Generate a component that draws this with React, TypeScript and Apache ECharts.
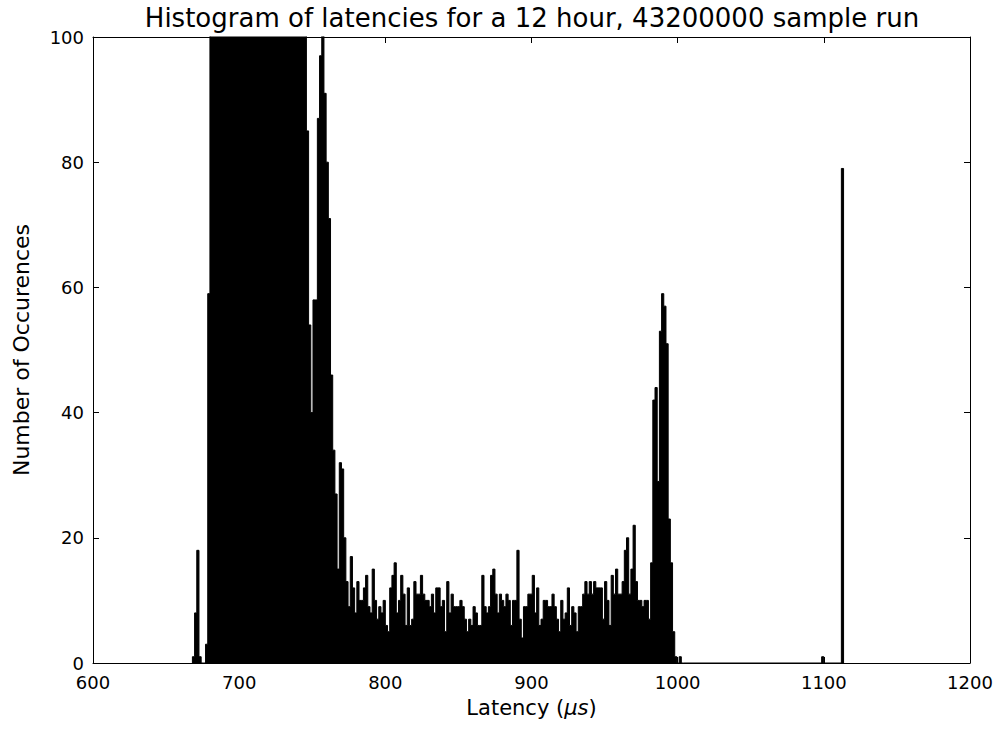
import React, { useEffect, useRef } from "react";
import * as echarts from "echarts";

// Histogram bins: 1.5 µs wide, first bin starts at 668 µs
const BIN_START = 668;
const BIN_WIDTH = 1.5;

// 668 – 680 µs
const leadCounts = [1, 8, 18, 1, 0, 0, 3, 59];
// 680 – 746 µs (far above the 100 clip of the y axis)
const bulkCounts = [
  420, 2150, 8400, 21500, 46800, 88300, 141000, 197500, 246000, 279000, 291000,
  283000, 261000, 229000, 193000, 158000, 126000, 98500, 75600, 57200, 43100,
  32400, 24300, 18200, 13600, 10200, 7650, 5730, 4290, 3210, 2400, 1790, 1340,
  1000, 748, 560, 419, 314, 236, 178, 135, 113, 104, 101,
];
// 746 – 792.5 µs
const fallCounts = [
  85, 54, 40, 58, 58, 87, 97, 130, 91, 80, 71, 46, 34, 27, 15, 32, 31, 20, 13, 9,
  17, 12, 8, 13, 10, 10, 12, 14, 9, 8, 15,
];
// 792.5 – 824 µs
const plateau1 = [10, 7, 9, 8, 10, 6, 5, 12, 14, 16, 8, 10, 14, 11, 6, 12, 6, 7, 13, 11, 11];
// 824 – 893 µs
const plateau2 = [
  14, 11, 10, 10, 9, 11, 8, 12, 12, 9, 10, 5, 13, 8, 11, 9, 9, 9, 10, 9, 7, 5, 7,
  6, 9, 8, 6, 6, 14, 9, 8, 9, 14, 15, 11, 8, 11, 10, 9, 11, 10, 6, 10, 10, 18, 7,
];
// 893 – 947 µs
const plateau3 = [
  4, 9, 9, 11, 11, 14, 8, 12, 6, 7, 10, 10, 9, 9, 11, 9, 7, 5, 10, 7, 8, 12, 6, 9,
  8, 5, 9, 9, 11, 13, 11, 13, 11, 13, 12, 12,
];
// 947 – 1004 µs
const secondPeak = [
  12, 7, 13, 10, 6, 14, 11, 15, 11, 11, 13, 18, 20, 11, 15, 22, 13, 10, 10, 9, 10,
  10, 7, 16, 42, 44, 29, 53, 59, 57, 51, 23, 16, 5, 1, 0, 1, 0,
];
// isolated outlier bins
const outlierStarts = [1098.5, 1112];
const outlierCounts = [1, 79];

const xTicks = [600, 700, 800, 900, 1000, 1100, 1200];
const yTicks = [0, 20, 40, 60, 80, 100];

const counts = [
  ...leadCounts,
  ...bulkCounts,
  ...fallCounts,
  ...plateau1,
  ...plateau2,
  ...plateau3,
  ...secondPeak,
];

function buildSteps(): number[][] {
  const pts: number[][] = [[BIN_START, 0]];
  counts.forEach((c, i) => pts.push([BIN_START + i * BIN_WIDTH, c]));
  pts.push([BIN_START + counts.length * BIN_WIDTH, 0]);
  outlierStarts.forEach((s, i) => {
    pts.push([s, outlierCounts[i]]);
    pts.push([s + BIN_WIDTH, 0]);
  });
  return pts;
}

const FONT = "DejaVu Sans";

export default function App() {
  const ref = useRef<HTMLDivElement>(null);
  useEffect(() => {
    if (!ref.current) return;
    const chart = echarts.init(ref.current, undefined, { renderer: "svg" });
    const xMin = xTicks[0];
    const xMax = xTicks[xTicks.length - 1];
    const yMin = yTicks[0];
    const yMax = yTicks[yTicks.length - 1];
    const tick = { show: true, inside: true, length: 6, lineStyle: { color: "#000", width: 1 } };
    const axisLine = { show: true, onZero: false, lineStyle: { color: "#000", width: 1 } };
    chart.setOption({
      animation: false,
      backgroundColor: "#fff",
      textStyle: { fontFamily: FONT },
      grid: { left: 93, right: 32, top: 37, bottom: 71, show: false },
      graphic: [
        {
          type: "text",
          x: 532,
          y: 18,
          style: {
            text: "Histogram of latencies for a 12 hour, 43200000 sample run",
            fontFamily: FONT,
            fontSize: 26,
            fill: "#000",
            align: "center",
            verticalAlign: "middle",
          },
        },
      ],
      xAxis: [
        {
          type: "value",
          min: xMin,
          max: xMax,
          interval: 100,
          position: "bottom",
          axisLine,
          axisTick: tick,
          splitLine: { show: false },
          axisLabel: {
            color: "#000",
            fontSize: 18,
            fontFamily: FONT,
            margin: 10,
            formatter: (v: number) => String(v),
          },
          name: "Latency ({i|μs})",
          nameLocation: "middle",
          nameGap: 34,
          nameTextStyle: {
            color: "#000",
            fontSize: 21,
            fontFamily: FONT,
            rich: { i: { fontSize: 21, fontFamily: FONT, fontStyle: "italic", color: "#000" } },
          },
        },
        {
          type: "value",
          min: xMin,
          max: xMax,
          interval: 100,
          position: "top",
          axisLine,
          axisTick: tick,
          splitLine: { show: false },
          axisLabel: { show: false },
        },
      ],
      yAxis: [
        {
          type: "value",
          min: yMin,
          max: yMax,
          interval: 20,
          position: "left",
          axisLine,
          axisTick: tick,
          splitLine: { show: false },
          axisLabel: { color: "#000", fontSize: 18, fontFamily: FONT, margin: 9 },
          name: "Number of Occurences",
          nameLocation: "middle",
          nameGap: 61,
          nameRotate: 90,
          nameTextStyle: { color: "#000", fontSize: 22, fontFamily: FONT },
        },
        {
          type: "value",
          min: yMin,
          max: yMax,
          interval: 20,
          position: "right",
          axisLine,
          axisTick: tick,
          splitLine: { show: false },
          axisLabel: { show: false },
        },
      ],
      series: [
        {
          type: "line",
          data: buildSteps(),
          step: "end",
          symbol: "none",
          clip: true,
          lineStyle: { color: "#000", width: 1 },
          areaStyle: { color: "#000", opacity: 1 },
          itemStyle: { color: "#000" },
          z: 1,
        },
      ],
    });
    return () => chart.dispose();
  }, []);
  return (
    <div
      ref={ref}
      style={{ position: "fixed", left: 0, top: 0, width: 1002, height: 734, background: "#fff" }}
    />
  );
}
